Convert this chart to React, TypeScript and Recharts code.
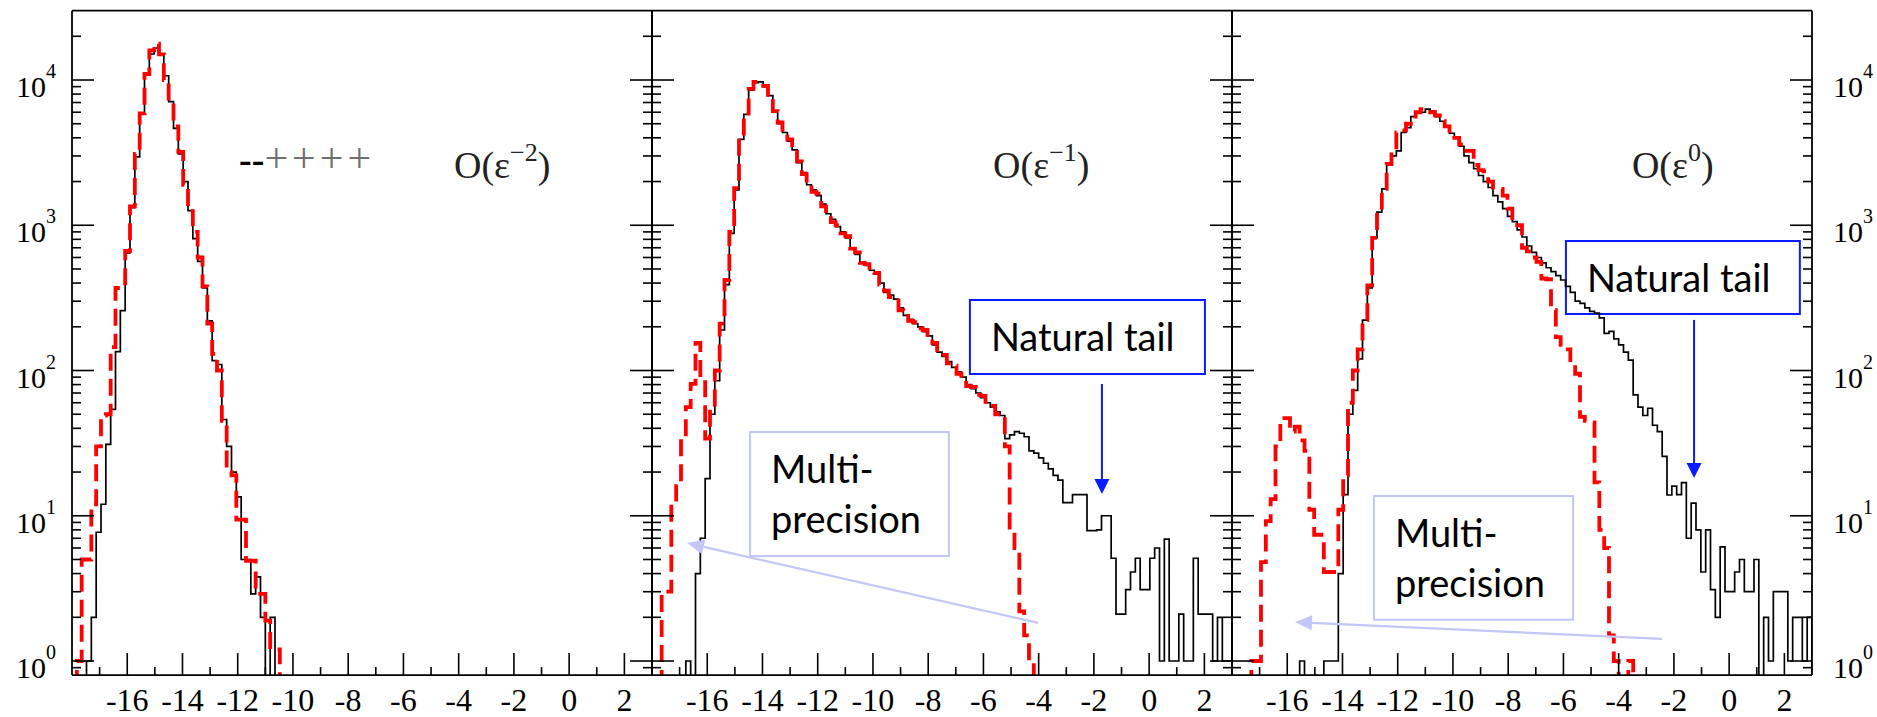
import React from "react";
import {
  ComposedChart,
  Line,
  XAxis,
  YAxis,
  ReferenceArea,
  ReferenceLine,
  ReferenceDot,
} from "recharts";

// all three histograms share the same binning: 120 bins over [-18, 3]
const X_MIN = -18;
const X_MAX = 3;
const BIN_COUNT = 120;
const BIN_W = (X_MAX - X_MIN) / BIN_COUNT;
const Y_MIN = 0.8;
const Y_MAX = 30000;
// empty bins are drawn below the frame and clipped, like ROOT does on log axes
const EMPTY_BIN = 0.3;

const xTicks = [-17, -16, -15, -14, -13, -12, -11, -10, -9, -8, -7, -6, -5, -4, -3, -2, -1, 0, 1, 2];
const xLabelTicks = [-16, -14, -12, -10, -8, -6, -4, -2, 0, 2];
const yDecades = [1, 10, 100, 1000, 10000];
const yMantissas = [1, 2, 3, 4, 5, 6, 7, 8, 9];

// bin contents, first entry is bin index *Start (bin k covers [-18 + k*0.175, -18 + (k+1)*0.175])
const p1BlackStart = 3;
const p1Black = [1, 2, 7.7, 12, 31, 54, 135, 258, 645, 1320, 2960, 5900, 10900, 15100, 16600, 15000, 10700, 7100, 4650, 3100, 2000, 1260, 810, 565, 370, 220, 117, 110, 46, 30, 20, 13.5, 5, 5, 2.9, 3.8, 2, 0, 2];
const p1RedStart = 1;
const p1Red = [1, 5, 5, 12, 30, 49, 50, 145, 370, 370, 665, 1350, 3100, 5900, 11000, 16000, 17800, 15000, 10000, 7000, 4800, 3200, 1900, 1300, 900, 600, 380, 210, 130, 100, 45, 20, 19, 9.4, 9.4, 4.9, 4.9, 2.9, 2.9, 1.9, 1.2, 1.2];

const p2BlackStart = 7;
const p2Black = [1, 0, 4, 7, 18, 50, 85, 190, 390, 880, 1750, 3900, 5800, 8500, 9600, 9700, 9000, 7800, 6000, 5000, 4350, 3800, 3300, 2700, 2300, 1900, 1750, 1600, 1400, 1200, 1100, 980, 900, 820, 700, 630, 560, 530, 490, 460, 400, 345, 330, 310, 270, 240, 225, 210, 200, 185, 173, 150, 134, 125, 115, 105, 98, 90, 80, 75, 70, 65, 60, 56, 52, 49, 34, 36, 38, 37, 35, 28, 27, 25, 23, 21, 19, 17.6, 12.3, 12.3, 14, 14, 14, 7.9, 7.9, 8, 10, 10, 5.1, 2.1, 2.1, 3.1, 4.1, 5.1, 3.1, 3.1, 5.1, 6, 1, 6.9, 1, 1, 2.1, 1, 1, 5.1, 2.1, 2.1, 2.1, 1, 2, 1, 1];
const p2RedStart = 2;
const p2Red = [3, 3, 12, 16, 34, 56, 81, 155, 93, 34, 55, 100, 210, 420, 900, 1800, 4000, 5900, 8700, 9700, 9700, 9100, 7900, 6100, 5100, 4300, 3900, 3200, 2750, 2250, 1950, 1700, 1650, 1350, 1250, 1050, 1000, 880, 840, 690, 650, 550, 540, 480, 470, 390, 355, 320, 320, 260, 250, 220, 215, 195, 190, 170, 155, 130, 128, 112, 108, 95, 92, 78, 77, 68, 67, 58, 57, 50, 48, 30, 7.9, 6, 2.2, 1.5, 1];

const p3BlackStart = 14;
const p3Black = [1, 0, 0, 0, 0, 1, 1, 1, 4, 14, 50, 73, 120, 222, 370, 820, 1230, 1780, 2640, 3000, 3250, 4350, 4700, 5600, 6000, 6000, 6300, 6100, 5600, 5200, 4800, 4300, 4000, 3500, 3000, 2700, 2450, 2200, 2000, 1820, 1600, 1450, 1300, 1150, 1060, 930, 830, 720, 650, 600, 550, 510, 480, 450, 420, 380, 345, 300, 290, 270, 255, 248, 230, 180, 186, 165, 150, 134, 118, 68, 56, 49, 55, 42, 38, 25.6, 13.9, 16, 14, 16.9, 7, 12.2, 8, 4.1, 8, 3.1, 2, 6.1, 3, 3, 4.1, 5, 3, 3, 5, 0, 2, 1, 3, 3, 3, 1, 2, 2, 1, 2];
const p3RedStart = 4;
const p3Red = [1, 1, 4.8, 9.2, 13, 30, 47, 47, 38, 41, 33, 28, 11, 7.4, 7.4, 4.1, 4.1, 4.1, 11, 19, 60, 100, 140, 222, 385, 820, 1230, 1780, 2640, 3250, 4350, 4500, 5000, 5600, 6000, 6300, 6300, 6000, 5700, 5200, 4800, 4300, 4000, 3600, 3250, 3250, 2600, 2400, 2350, 2000, 1820, 1780, 1600, 1300, 1050, 1000, 700, 660, 600, 560, 430, 425, 260, 170, 150, 140, 110, 95, 48, 45, 44, 17, 8, 6, 1.5, 1, 0, 0, 1];

// annotation anchors in data coordinates (x value, y count)
const orderLabels = ["−2", "−1", "0"];
const orderLabelPos = [
  { x: -4.17, y: 2115 },
  { x: -5.65, y: 2115 },
  { x: -3.52, y: 2115 },
];
const tailBoxes = [
  null,
  { x1: -6.49, x2: 2.02, y1: 94.6, y2: 306 },
  { x1: -5.91, x2: 2.56, y1: 245, y2: 779 },
];
const tailArrows = [
  null,
  { x: -1.71, from: 80.7, to: 14.1 },
  { x: -1.27, from: 223, to: 18.2 },
];
const mpBoxes = [
  null,
  { x1: -14.45, x2: -7.25, y1: 5.28, y2: 37.7 },
  { x1: -12.86, x2: -5.65, y1: 1.92, y2: 13.7 },
];
const mpArrows = [
  null,
  { from: { x: -4.02, y: 1.83 }, to: { x: -16.73, y: 6.49 } },
  { from: { x: -2.43, y: 1.42 }, to: { x: -15.72, y: 1.856 } },
];

const CHART_W = 1877;
const CHART_H = 717;
const PANEL_W = 580;
const PLOT_TOP = 10.7;
const PLOT_BOTTOM = 675.1;
const AXIS_SIZE = 1; // recharts skips axes of zero size
const panelLefts = [72, 652, 1232];

const SERIF = "'Liberation Serif', 'DejaVu Serif', serif";
const SANS = "Lato, 'Open Sans', 'Noto Sans', sans-serif";
const BLUE = "#0a1cff";
const LAVENDER = "#c3c6f6";

const yTicks = [0.9, ...yDecades.flatMap((d) => yMantissas.map((m) => m * d))].filter(
  (v) => v < Y_MAX,
);

function isDecade(v: number) {
  const l = Math.log10(v);
  return Math.abs(l - Math.round(l)) < 1e-9;
}

function toSteps(start: number, counts: number[]) {
  const pts = [{ x: X_MIN + start * BIN_W, y: EMPTY_BIN }];
  counts.forEach((c, i) => {
    const v = c > 0 ? c : EMPTY_BIN;
    const x0 = X_MIN + (start + i) * BIN_W;
    pts.push({ x: x0, y: v }, { x: x0 + BIN_W, y: v });
  });
  pts.push({ x: X_MIN + (start + counts.length) * BIN_W, y: EMPTY_BIN });
  return pts;
}

function BottomTick({ x, y, payload }: any) {
  const major = xLabelTicks.includes(payload.value);
  return (
    <g>
      <line x1={x} x2={x} y1={y} y2={y - (major ? 22 : 8)} stroke="#000" strokeWidth={1.6} />
      {major && (
        <text x={x} y={y + 36} textAnchor="middle" fontFamily={SERIF} fontSize={32} fill="#000">
          {payload.value}
        </text>
      )}
    </g>
  );
}

function TopTick({ x, y, payload }: any) {
  const major = xLabelTicks.includes(payload.value);
  return <line x1={x} x2={x} y1={y} y2={y + (major ? 24 : 10)} stroke="#000" strokeWidth={1.6} />;
}

function makeYTick(side: "left" | "right", withLabel: boolean) {
  return function YTick({ x, y, payload }: any) {
    const v = payload.value;
    const major = isDecade(v);
    const len = major ? 22 : 9;
    const dir = side === "left" ? 1 : -1;
    const exp = Math.round(Math.log10(v));
    return (
      <g>
        <line x1={x} x2={x + dir * len} y1={y} y2={y} stroke="#000" strokeWidth={1.6} />
        {withLabel && major && (
          <text
            x={side === "left" ? x - 16 : x + 21}
            y={y + 17}
            textAnchor={side === "left" ? "end" : "start"}
            fontFamily={SERIF}
            fontSize={30}
            fill="#000"
          >
            10
            <tspan dy={-19} fontSize={20}>
              {exp}
            </tspan>
          </text>
        )}
      </g>
    );
  };
}

function arrowShape(color: string, width: number, headLen: number, headW: number) {
  return function ArrowShape(p: any) {
    const { x1, y1, x2, y2 } = p;
    const dx = x2 - x1;
    const dy = y2 - y1;
    const len = Math.hypot(dx, dy) || 1;
    const ux = dx / len;
    const uy = dy / len;
    const bx = x2 - ux * headLen;
    const by = y2 - uy * headLen;
    const nx = (-uy * headW) / 2;
    const ny = (ux * headW) / 2;
    return (
      <g>
        <line x1={x1} y1={y1} x2={bx} y2={by} stroke={color} strokeWidth={width} />
        <polygon points={`${x2},${y2} ${bx + nx},${by + ny} ${bx - nx},${by - ny}`} fill={color} />
      </g>
    );
  };
}

function BoxText({ viewBox, lines, dy }: any) {
  const { x, y } = viewBox;
  return (
    <text fontFamily={SANS} fontSize={38} fill="#000">
      {lines.map((t: string, i: number) => (
        <tspan key={t} x={x + 21} y={y + dy[i]}>
          {t}
        </tspan>
      ))}
    </text>
  );
}

function OrderLabel({ viewBox, exp }: any) {
  const { x, y } = viewBox;
  return (
    <text x={x} y={y} fontFamily={SERIF} fontSize={38} fill="#222">
      O(ε
      <tspan dy={-17} fontSize={26}>
        {exp}
      </tspan>
      <tspan dy={17}>)</tspan>
    </text>
  );
}

function LegendText({ viewBox }: any) {
  const { x, y } = viewBox;
  return (
    <text x={x} y={y} fontFamily={SERIF} fontSize={42}>
      <tspan fontWeight="bold" fill="#000" fontSize={38}>
        --
      </tspan>
      <tspan fill="#6f6f6f" letterSpacing={4}>
        ++++
      </tspan>
    </text>
  );
}

function Panel({ idx, black, red }: { idx: number; black: any[]; red: any[] }) {
  const left = panelLefts[idx];
  const tailBox = tailBoxes[idx];
  const tailArrow = tailArrows[idx];
  const mpBox = mpBoxes[idx];
  const mpArrow = mpArrows[idx];
  const axisLine = { stroke: "#000", strokeWidth: 1.8 };
  return (
    <div style={{ position: "absolute", left: 0, top: 0 }}>
      <ComposedChart
        width={CHART_W}
        height={CHART_H}
        margin={{
          top: PLOT_TOP - AXIS_SIZE,
          bottom: CHART_H - PLOT_BOTTOM - AXIS_SIZE,
          left: left - AXIS_SIZE,
          right: CHART_W - left - PANEL_W - AXIS_SIZE,
        }}
      >
        <XAxis
          xAxisId="b"
          type="number"
          dataKey="x"
          orientation="bottom"
          domain={[X_MIN, X_MAX]}
          allowDataOverflow
          ticks={xTicks}
          interval={0}
          height={AXIS_SIZE}
          tickSize={0}
          tickMargin={0}
          tickLine={false}
          axisLine={axisLine}
          tick={<BottomTick />}
        />
        <XAxis
          xAxisId="t"
          type="number"
          orientation="top"
          domain={[X_MIN, X_MAX]}
          allowDataOverflow
          ticks={xTicks}
          interval={0}
          height={AXIS_SIZE}
          tickSize={0}
          tickMargin={0}
          tickLine={false}
          axisLine={axisLine}
          tick={<TopTick />}
        />
        <YAxis
          yAxisId="l"
          orientation="left"
          scale="log"
          domain={[Y_MIN, Y_MAX]}
          allowDataOverflow
          ticks={yTicks}
          interval={0}
          width={AXIS_SIZE}
          tickSize={0}
          tickMargin={0}
          tickLine={false}
          axisLine={axisLine}
          tick={React.createElement(makeYTick("left", idx === 0))}
        />
        <YAxis
          yAxisId="r"
          orientation="right"
          scale="log"
          domain={[Y_MIN, Y_MAX]}
          allowDataOverflow
          ticks={yTicks}
          interval={0}
          width={AXIS_SIZE}
          tickSize={0}
          tickMargin={0}
          tickLine={false}
          axisLine={axisLine}
          tick={React.createElement(makeYTick("right", idx === 2))}
        />
        <Line
          xAxisId="b"
          yAxisId="l"
          data={black}
          dataKey="y"
          type="linear"
          stroke="#000"
          strokeWidth={1.7}
          dot={false}
          activeDot={false}
          isAnimationActive={false}
        />
        <Line
          xAxisId="b"
          yAxisId="l"
          data={red}
          dataKey="y"
          type="linear"
          stroke="#ff0000"
          strokeWidth={3.8}
          strokeDasharray="17 8"
          dot={false}
          activeDot={false}
          isAnimationActive={false}
        />
        <ReferenceDot
          xAxisId="b"
          yAxisId="l"
          x={orderLabelPos[idx].x}
          y={orderLabelPos[idx].y}
          r={0}
          fill="none"
          stroke="none"
          label={<OrderLabel exp={orderLabels[idx]} />}
        />
        {idx === 0 && (
          <ReferenceDot
            xAxisId="b"
            yAxisId="l"
            x={-11.95}
            y={2326}
            r={0}
            fill="none"
            stroke="none"
            label={<LegendText />}
          />
        )}
        {tailBox && (
          <ReferenceArea
            xAxisId="b"
            yAxisId="l"
            x1={tailBox.x1}
            x2={tailBox.x2}
            y1={tailBox.y1}
            y2={tailBox.y2}
            fill="none"
            fillOpacity={0}
            stroke={BLUE}
            strokeWidth={2}
            label={<BoxText lines={["Natural tail"]} dy={[51]} />}
          />
        )}
        {tailArrow && (
          <ReferenceLine
            xAxisId="b"
            yAxisId="l"
            segment={[
              { x: tailArrow.x, y: tailArrow.from },
              { x: tailArrow.x, y: tailArrow.to },
            ]}
            shape={arrowShape(BLUE, 2, 15, 15)}
          />
        )}
        {mpBox && (
          <ReferenceArea
            xAxisId="b"
            yAxisId="l"
            x1={mpBox.x1}
            x2={mpBox.x2}
            y1={mpBox.y1}
            y2={mpBox.y2}
            fill="none"
            fillOpacity={0}
            stroke={LAVENDER}
            strokeWidth={2}
            label={<BoxText lines={["Multi-", "precision"]} dy={[51, 101]} />}
          />
        )}
        {mpArrow && (
          <ReferenceLine
            xAxisId="b"
            yAxisId="l"
            segment={[mpArrow.from, mpArrow.to]}
            shape={arrowShape(LAVENDER, 2.2, 17, 15)}
          />
        )}
      </ComposedChart>
    </div>
  );
}

export default function App() {
  const series = [
    { black: toSteps(p1BlackStart, p1Black), red: toSteps(p1RedStart, p1Red) },
    { black: toSteps(p2BlackStart, p2Black), red: toSteps(p2RedStart, p2Red) },
    { black: toSteps(p3BlackStart, p3Black), red: toSteps(p3RedStart, p3Red) },
  ];
  return (
    <div
      style={{
        position: "absolute",
        left: 0,
        top: 0,
        width: CHART_W,
        height: CHART_H,
        background: "#fff",
      }}
    >
      {series.map((s, i) => (
        <Panel key={i} idx={i} black={s.black} red={s.red} />
      ))}
    </div>
  );
}
